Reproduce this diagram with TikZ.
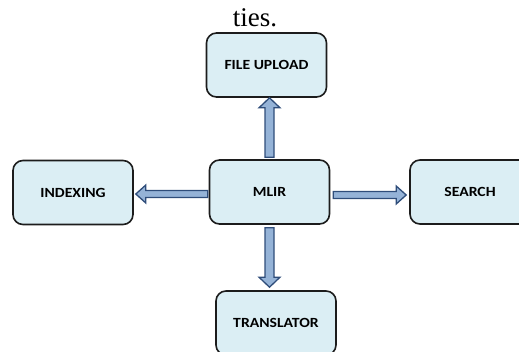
\documentclass[tikz,border=0pt]{standalone}
\usepackage{fontspec}
\setmainfont{Liberation Serif}
\newfontfamily\boxfont[FakeStretch=1.12]{Carlito}
\usetikzlibrary{calc,positioning}
\definecolor{boxbg}{HTML}{DBEEF4}
\definecolor{boxln}{HTML}{1C1C1C}
\definecolor{arrbg}{HTML}{95B3D7}
\definecolor{arrln}{HTML}{2F4D7A}
\tikzset{
  box/.style={draw=boxln,line width=1.6pt,rounded corners=10pt,fill=boxbg,minimum width=120pt,minimum height=64pt,inner sep=0pt,font=\boxfont\bfseries\fontsize{14}{16}\selectfont},
  blk/.style={draw=arrln,line width=1.3pt,fill=arrbg,line join=miter}
}
% block arrow: start, tip, half shaft, half head
\newcommand{\blockarr}[4]{%
  \coordinate (ba-s) at (#1);
  \coordinate (ba-t) at (#2);
  \coordinate (ba-h) at ($(ba-t)!10pt!(ba-s)$);
  \path[blk] ($(ba-s)!#3!90:(ba-t)$) -- ($(ba-h)!#3!-90:(ba-s)$) -- ($(ba-h)!#4!-90:(ba-s)$) -- (ba-t)
    -- ($(ba-h)!#4!90:(ba-s)$) -- ($(ba-h)!#3!90:(ba-s)$) -- ($(ba-s)!#3!-90:(ba-t)$) -- cycle;}

\begin{document}
\begin{tikzpicture}[x=1pt,y=-1pt]
\useasboundingbox (0,0) rectangle (519,351);
\node (cap) [anchor=base,font=\fontsize{27}{30}\selectfont] at (255,26) {ties.};

\node[box] (mlir) at (269.5,192) {MLIR};
\node[box] (upload) at (266.5,65) {FILE UPLOAD};
\node[box] (index) at (73,192.5) {INDEXING};
\node[box] (search) at (470,192) {SEARCH};
\node[box] (transl) at (276,323) {TRANSLATOR};

\blockarr{[yshift=2pt]mlir.north}{mlir.north |- upload.south}{4.5pt}{10.5pt}
\blockarr{[yshift=-3pt]mlir.south}{[yshift=3pt]mlir.south |- transl.north}{4.5pt}{10.5pt}
\blockarr{[xshift=-1pt,yshift=-2pt]mlir.west}{[xshift=2pt,yshift=-2pt]mlir.west -| index.east}{3.5pt}{9pt}
\blockarr{[xshift=3pt,yshift=-3pt]mlir.east}{[xshift=-3pt,yshift=-3pt]mlir.east -| search.west}{3.5pt}{9pt}
\end{tikzpicture}
\end{document}
